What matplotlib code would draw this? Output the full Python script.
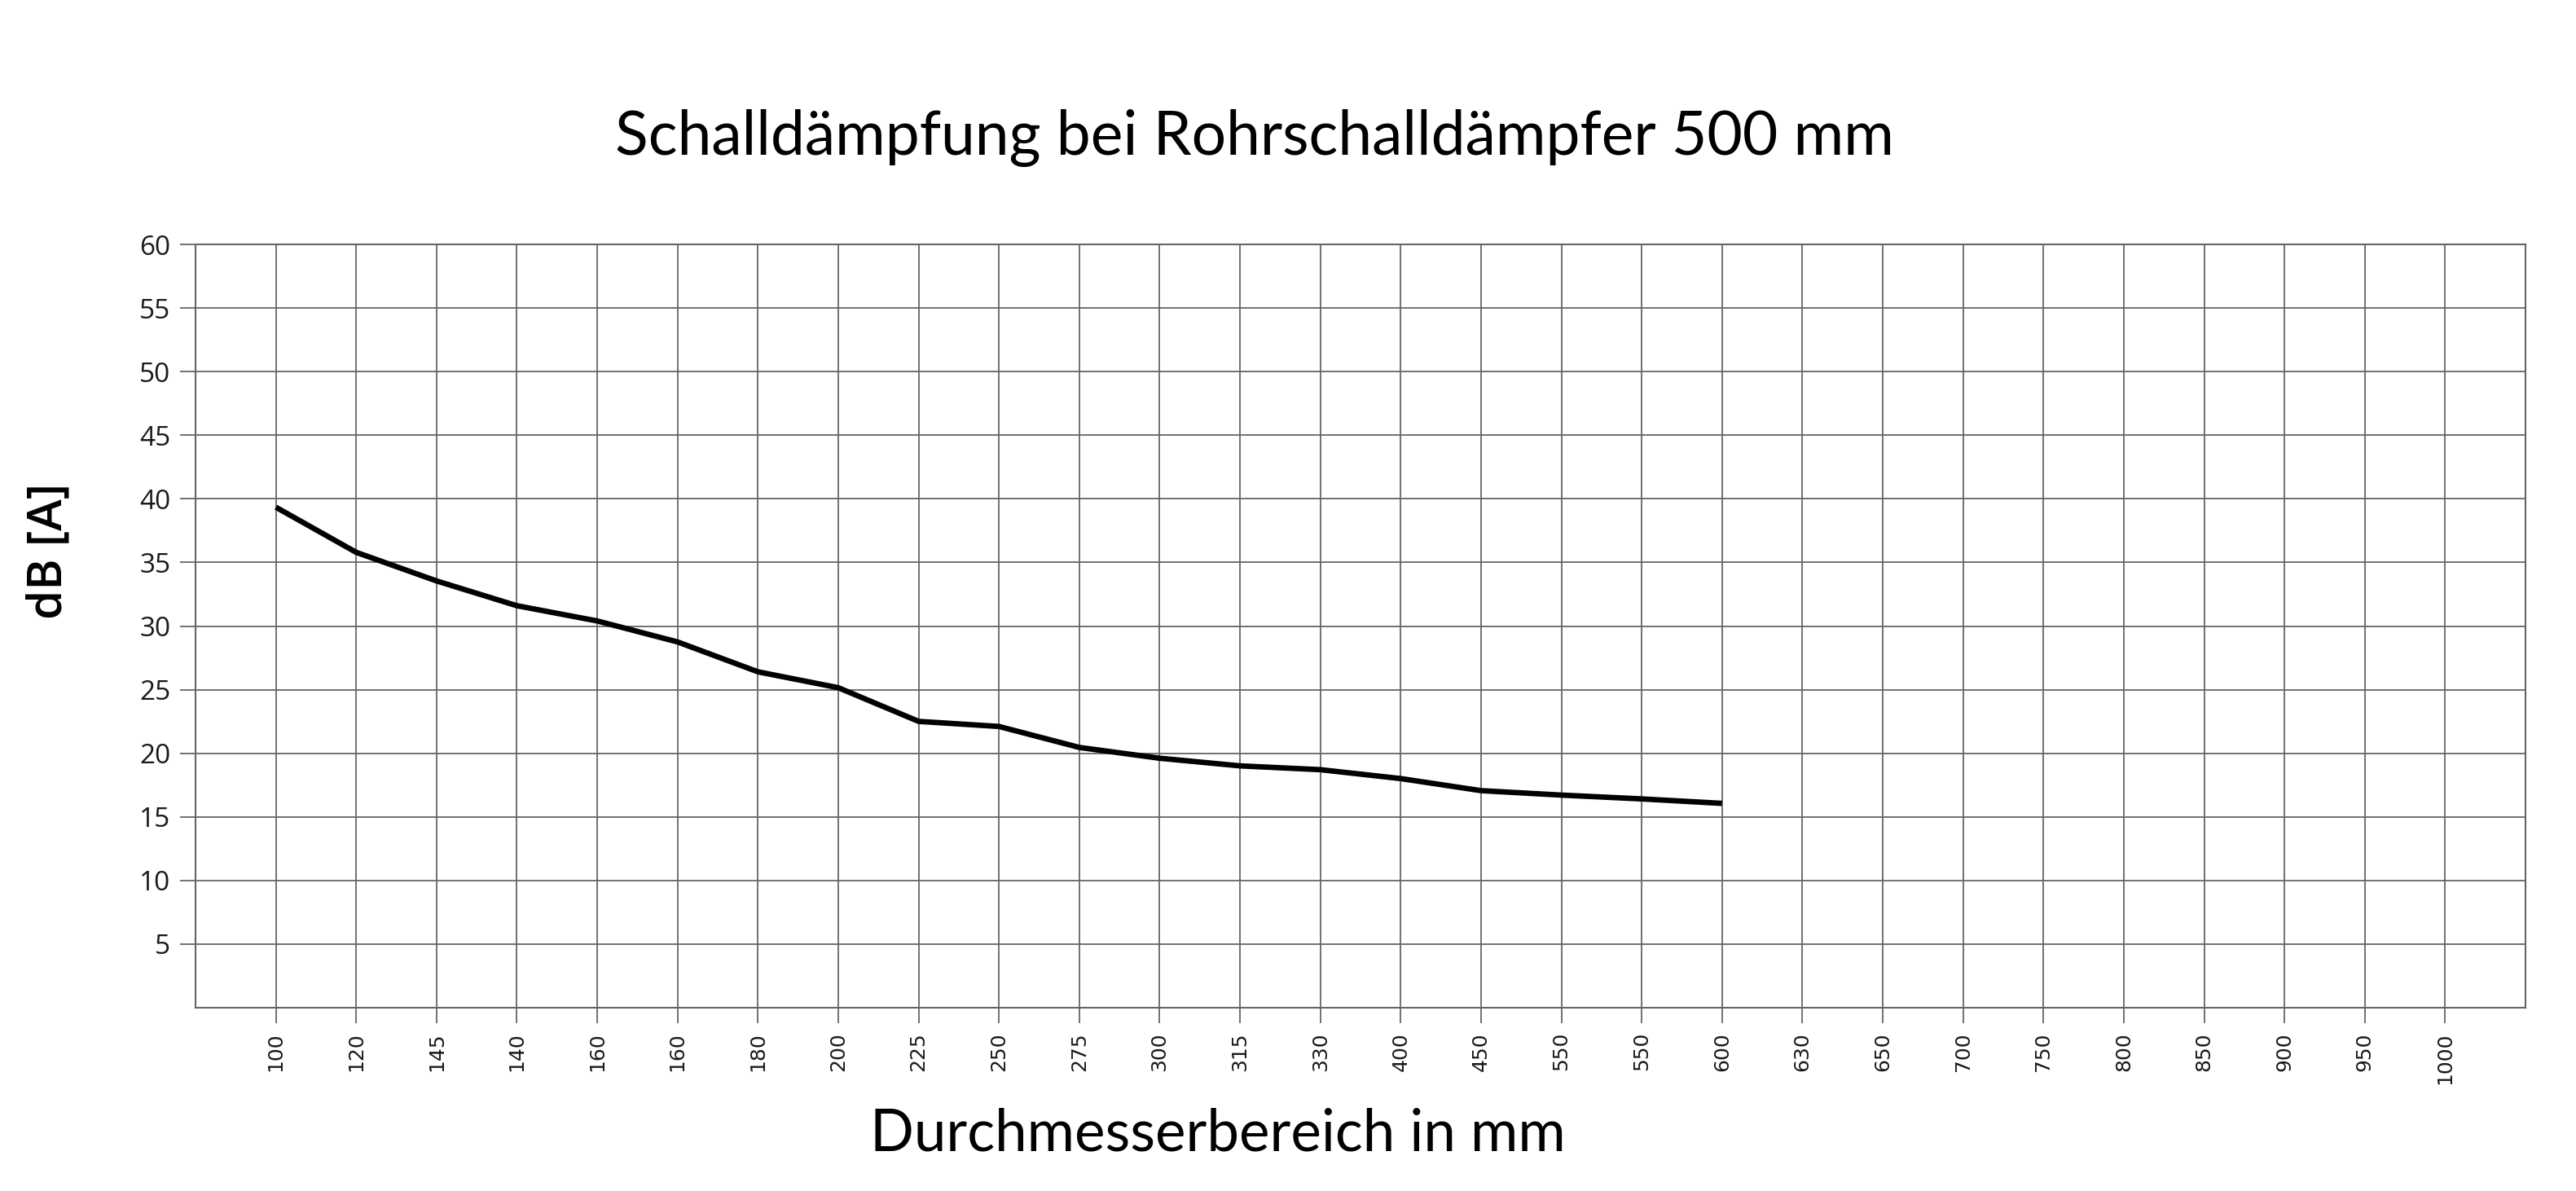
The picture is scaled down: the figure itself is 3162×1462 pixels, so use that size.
"""Schalldämpfung eines Rohrschalldämpfers (500 mm) über dem Durchmesserbereich."""
import matplotlib

matplotlib.use("Agg")
from matplotlib import pyplot as plt

diameter_labels = [
    "100", "120", "145", "140", "160", "160", "180", "200", "225", "250",
    "275", "300", "315", "330", "400", "450", "550", "550", "600", "630",
    "650", "700", "750", "800", "850", "900", "950", "1000",
]
# dB(A) values, only defined up to the "600" position
attenuation_db = [
    39.35, 35.8, 33.55, 31.6, 30.4, 28.75, 26.4, 25.15, 22.5, 22.1,
    20.45, 19.6, 19.0, 18.7, 18.0, 17.05, 16.7, 16.4, 16.05,
]
y_ticks = [5, 10, 15, 20, 25, 30, 35, 40, 45, 50, 55, 60]

title_text = "Schalldämpfung bei Rohrschalldämpfer 500 mm"
x_label = "Durchmesserbereich in mm"
y_label = "dB [A]"

GRID = "#666666"

fig = plt.figure(figsize=(31.62, 14.62), dpi=100)
ax = fig.add_axes([0.0759, 0.1542, 0.9045, 0.6403])

positions = list(range(len(diameter_labels)))
ax.plot(positions[:len(attenuation_db)], attenuation_db, color="black",
        linewidth=4.8, solid_joinstyle="round", solid_capstyle="butt", zorder=3)

ax.set_xlim(-1, len(diameter_labels))
ax.set_ylim(0, 60)
ax.set_xticks(positions)
ax.set_xticklabels(diameter_labels, rotation=90, fontsize=18,
                   family="DejaVu Sans", color="#1a1a1a")
ax.set_yticks(y_ticks)
ax.set_yticklabels([str(v) for v in y_ticks], fontsize=24,
                   family="Open Sans", color="#1a1a1a")
ax.tick_params(axis="both", length=14, width=1.3, color=GRID, pad=8)
ax.grid(True, color=GRID, linewidth=1.3)
ax.set_axisbelow(True)
for spine in ax.spines.values():
    spine.set_color(GRID)
    spine.set_linewidth(1.5)

fig.text(0.487, 0.8844, title_text, ha="center", va="center",
         fontsize=54, family="Lato")
fig.text(0.4728, 0.048, x_label, ha="center", va="center",
         fontsize=51, family="Lato")
fig.text(0.019, 0.5376, y_label, ha="center", va="center", rotation=90,
         fontsize=42, family="Open Sans", fontweight="semibold")

fig.savefig("out.png", dpi=100, facecolor="white")
plt.close(fig)
